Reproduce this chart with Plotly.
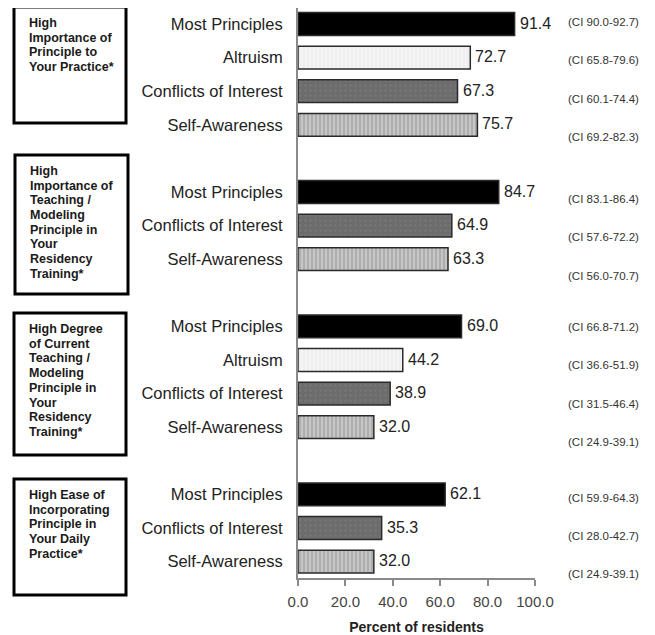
import plotly.graph_objects as go

# ---------------- data ----------------
group_titles = [
    "High<br>Importance of<br>Principle to<br>Your Practice*",
    "High<br>Importance of<br>Teaching /<br>Modeling<br>Principle in<br>Your<br>Residency<br>Training*",
    "High Degree<br>of Current<br>Teaching /<br>Modeling<br>Principle in<br>Your<br>Residency<br>Training*",
    "High Ease of<br>Incorporating<br>Principle in<br>Your Daily<br>Practice*",
]
group_labels = [
    ["Most Principles", "Altruism", "Conflicts of Interest", "Self-Awareness"],
    ["Most Principles", "Conflicts of Interest", "Self-Awareness"],
    ["Most Principles", "Altruism", "Conflicts of Interest", "Self-Awareness"],
    ["Most Principles", "Conflicts of Interest", "Self-Awareness"],
]
group_values = [
    [91.4, 72.7, 67.3, 75.7],
    [84.7, 64.9, 63.3],
    [69.0, 44.2, 38.9, 32.0],
    [62.1, 35.3, 32.0],
]
group_ci = [
    ["90.0-92.7", "65.8-79.6", "60.1-74.4", "69.2-82.3"],
    ["83.1-86.4", "57.6-72.2", "56.0-70.7"],
    ["66.8-71.2", "36.6-51.9", "31.5-46.4", "24.9-39.1"],
    ["59.9-64.3", "28.0-42.7", "24.9-39.1"],
]
x_ticks = [0, 20, 40, 60, 80, 100]
x_ticktext = ["0.0", "20.0", "40.0", "60.0", "80.0", "100.0"]
x_title = "Percent of residents"

# ---------------- styles ----------------
styles = {
    "Most Principles": dict(color="#000000", pattern=dict(shape="")),
    "Altruism": dict(color="#f3f3f3", pattern=dict(shape="|", fgcolor="#d6d6d6", bgcolor="#f5f5f5", size=4, solidity=0.25)),
    "Conflicts of Interest": dict(color="#6c6c6c", pattern=dict(shape=".", fgcolor="#7c7c7c", bgcolor="#6c6c6c", size=5, solidity=0.3)),
    "Self-Awareness": dict(color="#b8b8b8", pattern=dict(shape="|", fgcolor="#868686", bgcolor="#c6c6c6", size=4, solidity=0.4)),
}

OFF = 8  # page body margin
W, H = 655 - OFF, 635 - OFF
PL, PR, PT, PB = 298 - OFF, 535 - OFF, 0, 578 - OFF  # plot area in figure pixels


def px_x(p):  # window pixel -> paper
    return (p - OFF - PL) / (PR - PL)


def px_y(p):
    return (PB - (p - OFF)) / (PB - PT)


# slot positions (one empty slot between groups)
slots, labels, values, cis, ci_y = [], [], [], [], []
ci_start = [-0.06, 0.21, 0.02, 0.10]
ci_step = 0.14
s = 0
for g, labs in enumerate(group_labels):
    for i, lab in enumerate(labs):
        slots.append(s)
        labels.append(lab)
        values.append(group_values[g][i])
        cis.append(group_ci[g][i])
        ci_y.append(s + ci_start[g] + ci_step * i)
        s += 1
    s += 1

slot_px = 33.6
slot0_win = 24
y_top = -(slot0_win - (PT + OFF)) / slot_px
y_bot = y_top + (PB - PT) / slot_px

fig = go.Figure()
for cat, st in styles.items():
    ys = [slots[k] for k in range(len(labels)) if labels[k] == cat]
    xs = [values[k] for k in range(len(labels)) if labels[k] == cat]
    fig.add_trace(go.Bar(
        x=xs, y=ys, orientation="h", width=0.68,
        marker=dict(color=st["color"], pattern=st["pattern"],
                    line=dict(color="#2a2a2a", width=1.5)),
        showlegend=False, hoverinfo="x",
    ))

FONT = "Liberation Sans, Arial"
annotations = []
for k in range(len(labels)):
    annotations.append(dict(
        x=values[k], y=slots[k], xref="x", yref="y", text=f"{values[k]:.1f}",
        showarrow=False, xanchor="left", yanchor="middle", xshift=3, yshift=1,
        font=dict(family=FONT, size=16, color="#222222"),
    ))
    annotations.append(dict(
        x=px_x(641), y=ci_y[k], xref="paper", yref="y", text=f"(CI {cis[k]})",
        showarrow=False, xanchor="right", yanchor="middle",
        font=dict(family=FONT, size=11.5, color="#333333"),
    ))

boxes_px = [(14, 7, 126, 123), (15, 155, 128, 294), (14, 313, 126, 455), (14, 479, 126, 595)]
line_gap = 14.7
shapes = []
for g, (x0, y0, x1, y1) in enumerate(boxes_px):
    shapes.append(dict(type="rect", xref="paper", yref="paper",
                       x0=px_x(x0), x1=px_x(x1), y0=px_y(y1), y1=px_y(y0),
                       line=dict(color="#000000", width=3), fillcolor="rgba(0,0,0,0)"))
    for j, line in enumerate(group_titles[g].split("<br>")):
        annotations.append(dict(
            x=px_x(x0 + 13), y=px_y(y0 + 16 + j * line_gap), xref="paper", yref="paper",
            text="<b>" + line + "</b>", showarrow=False,
            xanchor="left", yanchor="middle", align="left",
            font=dict(family=FONT, size=12.5, color="#1a1a1a"),
        ))

fig.update_layout(
    width=W, height=H,
    margin=dict(l=PL, r=W - PR, t=PT, b=H - PB, pad=0),
    plot_bgcolor="white", paper_bgcolor="white",
    barmode="overlay",
    shapes=shapes, annotations=annotations,
    xaxis=dict(range=[0, 100], tickvals=x_ticks, ticktext=x_ticktext, automargin=False,
               showline=True, linecolor="#8a8a8a", linewidth=1.5,
               ticks="outside", ticklen=6, tickcolor="#8a8a8a", tickwidth=1.5,
               showgrid=False, zeroline=False, ticklabelstandoff=3,
               tickfont=dict(family=FONT, size=15, color="#444444"),
               title=dict(text="<b>" + x_title + "</b>", standoff=14,
                          font=dict(family=FONT, size=14, color="#222222"))),
    yaxis=dict(range=[y_bot, y_top], tickvals=slots, ticktext=labels, automargin=False,
               showline=True, linecolor="#8a8a8a", linewidth=2,
               ticks="", showgrid=False, zeroline=False, ticklabelstandoff=10,
               tickfont=dict(family=FONT, size=16.5, color="#222222")),
)

fig.write_html("out.html")
